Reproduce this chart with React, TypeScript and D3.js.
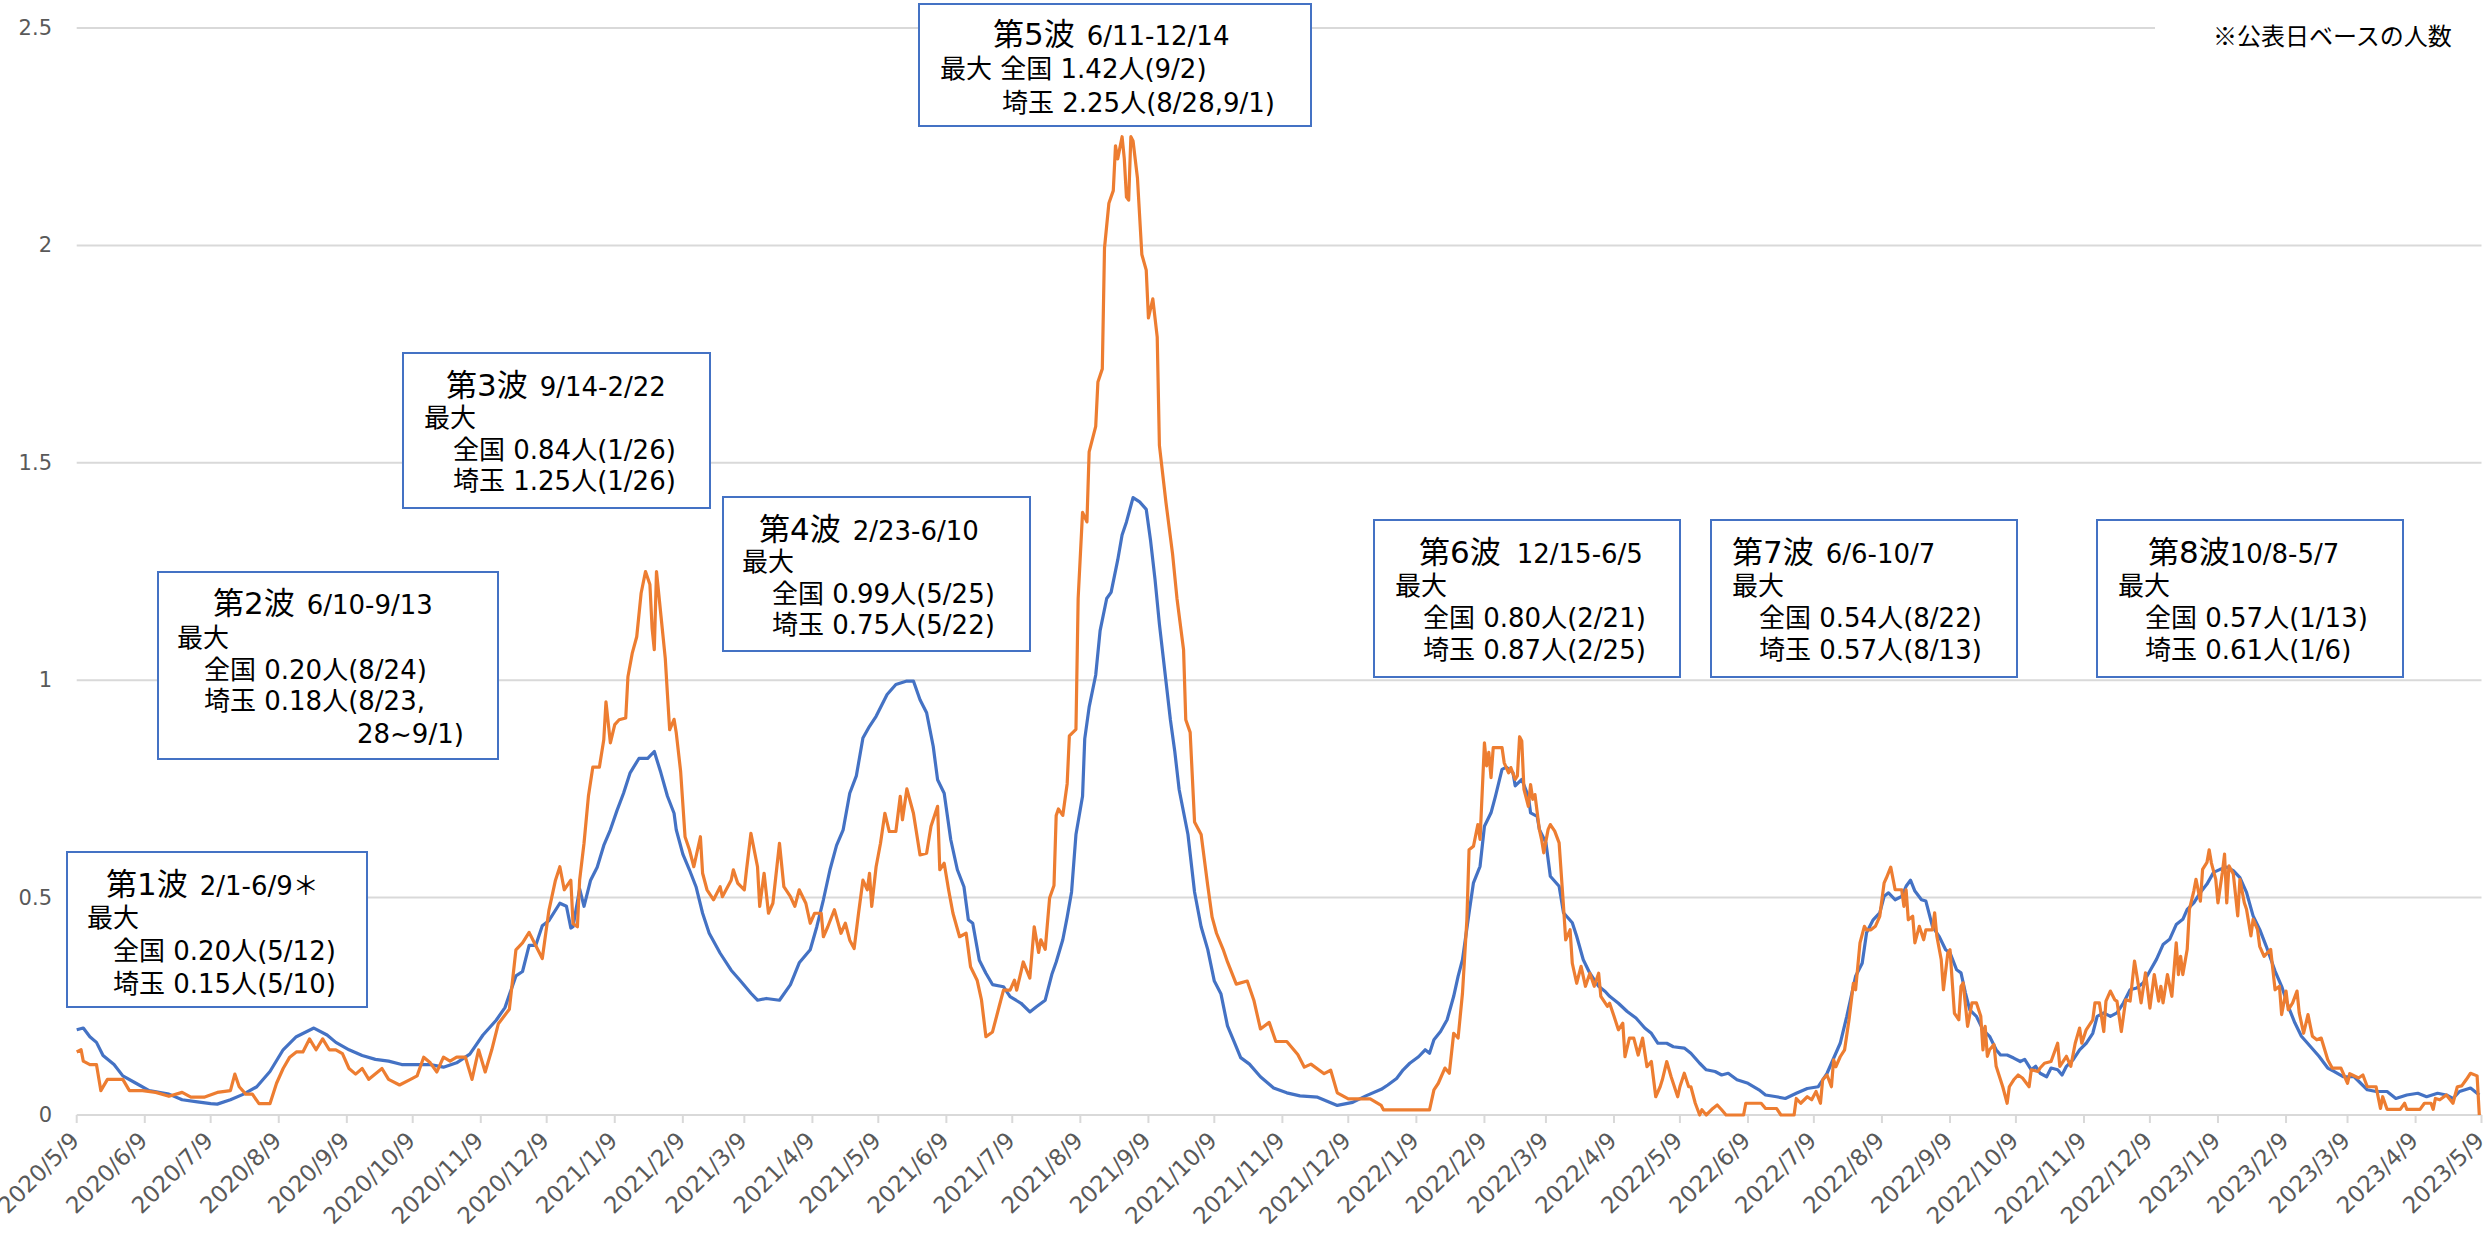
import React from "react";
import * as d3 from "d3";

const START_DATE = "2020-05-09";
const END_DATE = "2023-05-09";

// day offsets from START_DATE and values (人/10万人, 7日平均)
const nationalDays = [0,3,6,9,12,17,21,27,33,42,48,55,61,64,70,76,82,88,94,100,108,114,118,124,130,136,142,148,155,161,167,173,179,185,191,195,200,203,206,209,212,215,220,223,225,226,229,231,234,237,240,243,246,249,252,256,260,263,266,269,272,273,276,279,282,285,288,293,298,302,307,310,314,320,325,329,334,337,340,343,346,349,352,355,358,361,364,369,373,378,381,384,387,390,392,395,398,401,404,406,408,411,414,417,422,425,430,434,437,441,444,446,449,451,453,455,458,459,461,464,466,469,471,474,476,478,481,484,487,489,491,493,496,498,500,502,506,509,512,515,518,521,524,527,530,534,539,545,551,557,565,574,581,587,594,597,601,604,607,611,614,616,618,621,624,627,629,631,634,636,639,641,644,646,649,651,654,655,658,661,662,665,666,669,671,675,677,681,683,686,689,693,696,698,702,706,710,714,717,720,724,727,732,735,739,742,746,749,752,756,761,766,769,774,778,783,788,793,797,799,803,806,810,813,815,818,821,823,825,828,831,833,835,837,840,842,845,848,851,853,856,858,860,862,865,868,871,874,876,879,882,885,887,890,892,894,897,899,902,904,906,909,912,915,918,920,923,926,929,932,935,938,941,944,947,950,953,956,959,961,964,967,970,973,976,979,982,985,988,991,994,997,1001,1004,1007,1010,1013,1017,1021,1025,1028,1032,1037,1040,1043,1047,1052,1056,1061,1066,1070,1075,1079,1082,1085,1090,1094];
const nationalValues = [0.196,0.2,0.18,0.167,0.137,0.116,0.09,0.073,0.056,0.048,0.035,0.03,0.026,0.025,0.035,0.048,0.065,0.1,0.15,0.18,0.2,0.184,0.167,0.15,0.137,0.128,0.124,0.116,0.116,0.116,0.11,0.12,0.14,0.184,0.218,0.247,0.32,0.33,0.39,0.39,0.435,0.447,0.487,0.48,0.43,0.433,0.52,0.48,0.54,0.57,0.62,0.656,0.7,0.74,0.787,0.82,0.82,0.836,0.787,0.733,0.694,0.656,0.6,0.564,0.525,0.464,0.418,0.372,0.333,0.31,0.28,0.264,0.268,0.264,0.3,0.35,0.38,0.433,0.495,0.564,0.62,0.656,0.74,0.78,0.867,0.894,0.917,0.967,0.99,0.998,0.998,0.955,0.925,0.848,0.771,0.74,0.633,0.564,0.525,0.449,0.441,0.356,0.326,0.3,0.295,0.272,0.257,0.237,0.249,0.264,0.323,0.352,0.403,0.455,0.513,0.645,0.733,0.865,0.938,1.012,1.114,1.188,1.202,1.276,1.334,1.364,1.42,1.41,1.393,1.32,1.232,1.129,0.997,0.909,0.836,0.748,0.645,0.513,0.433,0.381,0.308,0.279,0.205,0.169,0.132,0.117,0.088,0.062,0.051,0.044,0.041,0.022,0.029,0.044,0.059,0.069,0.084,0.104,0.119,0.134,0.15,0.142,0.173,0.192,0.219,0.273,0.319,0.357,0.465,0.534,0.572,0.664,0.695,0.733,0.795,0.8,0.787,0.757,0.772,0.733,0.695,0.687,0.657,0.626,0.549,0.526,0.465,0.442,0.411,0.357,0.326,0.296,0.284,0.273,0.257,0.238,0.223,0.2,0.188,0.165,0.165,0.157,0.154,0.142,0.119,0.104,0.1,0.092,0.096,0.081,0.073,0.058,0.046,0.042,0.038,0.05,0.061,0.065,0.096,0.119,0.165,0.227,0.319,0.349,0.419,0.449,0.465,0.503,0.511,0.495,0.503,0.526,0.54,0.515,0.495,0.492,0.434,0.411,0.38,0.373,0.334,0.327,0.281,0.242,0.227,0.196,0.181,0.15,0.138,0.138,0.131,0.123,0.128,0.104,0.112,0.096,0.088,0.108,0.104,0.092,0.112,0.127,0.15,0.165,0.188,0.227,0.235,0.227,0.235,0.258,0.288,0.292,0.304,0.331,0.358,0.392,0.404,0.438,0.45,0.473,0.488,0.512,0.531,0.558,0.565,0.57,0.562,0.546,0.512,0.458,0.427,0.388,0.331,0.296,0.25,0.212,0.181,0.158,0.135,0.108,0.1,0.088,0.088,0.073,0.058,0.054,0.054,0.038,0.046,0.05,0.042,0.05,0.046,0.038,0.054,0.062,0.046];

const saitamaDays = [0,2,3,6,9,11,14,17,21,24,30,36,42,48,52,58,64,70,72,74,77,80,83,88,91,94,97,100,103,106,109,112,115,118,121,124,127,130,133,139,142,147,152,155,158,161,164,167,170,173,177,180,183,186,189,192,197,200,203,206,209,212,215,218,220,222,225,226,228,229,231,233,235,238,240,241,243,245,247,250,251,253,255,257,259,261,262,263,264,266,268,269,270,272,273,275,277,279,281,284,285,287,290,293,294,298,299,301,304,305,307,310,311,313,315,317,320,322,325,327,329,332,334,336,339,340,342,345,348,350,352,354,356,358,360,361,362,364,366,368,370,373,375,376,378,381,384,387,389,392,393,395,397,399,402,405,407,410,412,414,417,420,422,425,427,428,430,431,434,436,438,439,441,443,445,446,447,449,451,452,455,456,458,460,461,464,465,467,468,470,472,473,474,476,477,478,479,480,481,483,485,487,488,490,492,493,496,499,501,504,505,507,509,512,515,517,519,522,524,528,533,536,539,543,546,551,556,559,562,568,571,574,579,589,594,595,616,618,620,623,625,627,629,631,633,634,636,638,639,641,642,643,644,645,649,650,652,653,655,656,657,658,659,661,662,663,664,666,667,668,670,671,673,675,677,678,680,681,683,685,687,689,691,693,694,697,698,700,702,704,705,707,709,711,713,715,717,719,721,722,724,726,729,730,732,734,735,737,739,740,742,745,747,749,751,759,760,767,769,774,776,782,783,785,788,790,792,794,795,797,799,800,801,803,805,807,809,810,812,814,815,817,819,821,823,824,826,828,831,832,833,834,836,837,839,841,842,845,846,847,849,850,852,853,855,857,858,859,861,863,865,867,868,869,870,871,873,874,877,879,880,882,884,886,889,890,893,894,896,899,902,903,906,908,910,912,913,915,918,919,921,923,924,926,928,929,931,933,935,937,938,940,942,943,944,946,948,949,950,952,954,956,957,958,959,961,962,964,965,967,968,970,971,972,974,975,977,978,979,980,982,984,985,987,988,990,991,993,994,996,999,1001,1003,1004,1006,1007,1009,1011,1012,1014,1016,1018,1020,1022,1025,1027,1031,1034,1035,1039,1041,1043,1047,1049,1050,1052,1058,1060,1061,1067,1069,1072,1073,1074,1076,1079,1082,1084,1086,1088,1090,1093,1094];
const saitamaValues = [0.145,0.15,0.124,0.116,0.116,0.056,0.082,0.082,0.082,0.056,0.056,0.052,0.043,0.052,0.041,0.041,0.052,0.056,0.094,0.065,0.048,0.048,0.026,0.026,0.073,0.107,0.133,0.145,0.145,0.175,0.15,0.175,0.15,0.15,0.141,0.107,0.094,0.107,0.082,0.107,0.082,0.069,0.082,0.09,0.133,0.12,0.099,0.133,0.124,0.133,0.133,0.082,0.15,0.099,0.15,0.21,0.243,0.38,0.396,0.42,0.39,0.36,0.47,0.54,0.571,0.518,0.54,0.44,0.433,0.54,0.625,0.733,0.8,0.8,0.863,0.95,0.856,0.898,0.909,0.913,1.008,1.063,1.1,1.2,1.25,1.22,1.12,1.07,1.25,1.15,1.05,0.967,0.886,0.91,0.879,0.79,0.64,0.61,0.571,0.64,0.556,0.518,0.495,0.525,0.502,0.54,0.564,0.533,0.518,0.564,0.648,0.571,0.48,0.556,0.464,0.487,0.625,0.525,0.502,0.48,0.518,0.487,0.441,0.464,0.464,0.41,0.433,0.472,0.418,0.441,0.402,0.383,0.464,0.54,0.518,0.556,0.48,0.571,0.625,0.694,0.652,0.652,0.733,0.679,0.75,0.694,0.598,0.602,0.664,0.71,0.564,0.579,0.518,0.464,0.41,0.418,0.341,0.31,0.264,0.18,0.191,0.249,0.287,0.287,0.31,0.287,0.33,0.352,0.315,0.433,0.374,0.403,0.381,0.499,0.528,0.689,0.704,0.689,0.762,0.872,0.887,1.188,1.386,1.364,1.525,1.584,1.686,1.716,1.994,2.097,2.126,2.229,2.199,2.25,2.2,2.111,2.104,2.25,2.24,2.155,1.979,1.943,1.833,1.877,1.789,1.54,1.408,1.29,1.188,1.07,0.909,0.88,0.674,0.645,0.528,0.455,0.418,0.381,0.352,0.301,0.308,0.264,0.198,0.213,0.169,0.169,0.139,0.11,0.117,0.095,0.103,0.051,0.037,0.037,0.022,0.012,0.012,0.058,0.073,0.108,0.096,0.188,0.177,0.28,0.449,0.61,0.618,0.668,0.634,0.856,0.803,0.834,0.776,0.845,0.845,0.81,0.787,0.799,0.772,0.78,0.87,0.86,0.749,0.71,0.76,0.726,0.737,0.657,0.634,0.603,0.657,0.668,0.653,0.626,0.48,0.403,0.426,0.349,0.303,0.342,0.296,0.326,0.296,0.326,0.273,0.25,0.257,0.227,0.196,0.211,0.134,0.177,0.177,0.138,0.177,0.111,0.123,0.042,0.065,0.081,0.123,0.088,0.042,0.065,0.096,0.065,0.065,0.027,0,0.012,0,0.015,0.023,0.012,0,0,0.027,0.027,0.015,0.015,0,0,0.038,0.027,0.042,0.035,0.054,0.027,0.081,0.092,0.065,0.127,0.111,0.134,0.15,0.219,0.303,0.288,0.396,0.434,0.426,0.426,0.434,0.457,0.534,0.545,0.57,0.518,0.518,0.48,0.518,0.449,0.457,0.396,0.434,0.403,0.426,0.426,0.465,0.411,0.357,0.288,0.373,0.38,0.234,0.219,0.296,0.304,0.204,0.258,0.258,0.227,0.15,0.204,0.135,0.15,0.162,0.112,0.065,0.027,0.065,0.081,0.092,0.085,0.065,0.104,0.1,0.108,0.119,0.123,0.165,0.112,0.135,0.112,0.165,0.2,0.165,0.196,0.219,0.258,0.258,0.192,0.262,0.285,0.265,0.262,0.192,0.265,0.262,0.354,0.323,0.258,0.327,0.288,0.246,0.323,0.262,0.296,0.258,0.323,0.273,0.396,0.323,0.365,0.323,0.381,0.473,0.515,0.542,0.492,0.565,0.581,0.61,0.58,0.542,0.488,0.558,0.6,0.488,0.573,0.554,0.458,0.542,0.488,0.473,0.412,0.45,0.427,0.388,0.365,0.381,0.288,0.296,0.231,0.285,0.242,0.258,0.285,0.235,0.188,0.231,0.181,0.173,0.177,0.127,0.108,0.108,0.073,0.095,0.085,0.092,0.065,0.065,0.015,0.042,0.013,0.013,0.027,0.013,0.013,0.027,0.027,0.013,0.038,0.035,0.046,0.027,0.065,0.067,0.081,0.096,0.09,0];

const yTicks = [0, 0.5, 1, 1.5, 2, 2.5];
const yTickLabels = ["0", "0.5", "1", "1.5", "2", "2.5"];

const waveTitles = ["第1波", "第2波", "第3波", "第4波", "第5波", "第6波", "第7波", "第8波"];
const wavePeriods = ["2/1-6/9＊", "6/10-9/13", "9/14-2/22", "2/23-6/10", "6/11-12/14", "12/15-6/5", "6/6-10/7", "10/8-5/7"];
const waveLines = [
  ["最大", "全国 0.20人(5/12)", "埼玉 0.15人(5/10)"],
  ["最大", "全国 0.20人(8/24)", "埼玉 0.18人(8/23,", "28~9/1)"],
  ["最大", "全国 0.84人(1/26)", "埼玉 1.25人(1/26)"],
  ["最大", "全国 0.99人(5/25)", "埼玉 0.75人(5/22)"],
  ["最大 全国 1.42人(9/2)", "埼玉 2.25人(8/28,9/1)"],
  ["最大", "全国 0.80人(2/21)", "埼玉 0.87人(2/25)"],
  ["最大", "全国 0.54人(8/22)", "埼玉 0.57人(8/13)"],
  ["最大", "全国 0.57人(1/13)", "埼玉 0.61人(1/6)"],
];
const noteText = "※公表日ベースの人数";

// layout of annotation boxes (pixels)
const boxLayout = [
  { x: 67, y: 852, w: 300, h: 155, tx: 106, gap: 12, ty: 43, lx: [87, 113, 113], ly: [75, 108, 141] },
  { x: 158, y: 572, w: 340, h: 187, tx: 213, gap: 12, ty: 42, lx: [177, 204, 204, 357], ly: [75, 107, 138, 171] },
  { x: 403, y: 353, w: 307, h: 155, tx: 446, gap: 12, ty: 43, lx: [424, 453, 453], ly: [74, 106, 137] },
  { x: 723, y: 497, w: 307, h: 154, tx: 759, gap: 12, ty: 43, lx: [742, 772, 772], ly: [74, 106, 137] },
  { x: 919, y: 4, w: 392, h: 122, tx: 993, gap: 12, ty: 41, lx: [940, 1002], ly: [74, 108] },
  { x: 1374, y: 520, w: 306, h: 157, tx: 1419, gap: 16, ty: 43, lx: [1395, 1423, 1423], ly: [75, 107, 139] },
  { x: 1711, y: 520, w: 306, h: 157, tx: 1732, gap: 12, ty: 43, lx: [1732, 1759, 1759], ly: [75, 107, 139] },
  { x: 2097, y: 520, w: 306, h: 157, tx: 2148, gap: 0, ty: 43, lx: [2118, 2145, 2145], ly: [75, 107, 139] },
];

const W = 2491;
const H = 1233;
const X0 = 76.7;
const X1 = 2481.5;
const Y0 = 1115;
const Y1 = 28;
const BLUE = "#4472C4";
const ORANGE = "#ED7D31";
const GRID = "#d9d9d9";
const LABEL = "#595959";
const FONT = "'DejaVu Sans', 'Noto Sans CJK JP', sans-serif";
const JFONT = "'Noto Sans CJK JP', sans-serif";

export default function App() {
  const parse = d3.timeParse("%Y-%m-%d");
  const start = parse(START_DATE) as Date;
  const end = parse(END_DATE) as Date;
  const x = d3.scaleTime().domain([start, end]).range([X0, X1]);
  const y = d3.scaleLinear().domain([0, 2.5]).range([Y0, Y1]);

  const mk = (days: number[], vals: number[]) =>
    days.map((d, i) => ({ date: d3.timeDay.offset(start, d), v: vals[i] }));
  const national = mk(nationalDays, nationalValues);
  const saitama = mk(saitamaDays, saitamaValues);

  const line = d3
    .line<{ date: Date; v: number }>()
    .x((d) => x(d.date))
    .y((d) => y(d.v));

  const months = d3.timeMonth.every(1)!.range(d3.timeMonth.floor(start), d3.timeDay.offset(end, 1))
    .map((m) => new Date(m.getFullYear(), m.getMonth(), 9))
    .filter((d) => d >= start && d <= end);
  const fmt = (d: Date) => `${d.getFullYear()}/${d.getMonth() + 1}/${d.getDate()}`;

  return (
    <>
      <style>{`body{margin:0;background:#fff}`}</style>
      <svg width={W} height={H} style={{ display: "block", background: "#fff" }}>
        {/* grid */}
        {yTicks.filter((t) => t > 0).map((t) => (
          <line key={t} x1={X0} x2={X1} y1={y(t)} y2={y(t)} stroke={GRID} strokeWidth={2} />
        ))}
        {/* x axis */}
        <line x1={X0} x2={X1} y1={Y0} y2={Y0} stroke={GRID} strokeWidth={2} />
        {months.map((m) => (
          <line key={+m} x1={x(m)} x2={x(m)} y1={Y0} y2={Y0 + 8} stroke={GRID} strokeWidth={2} />
        ))}
        {months.map((m) => (
          <text
            key={"l" + +m}
            transform={`translate(${x(m) + 4},${Y0 + 27}) rotate(-45)`}
            textAnchor="end"
            fontFamily={FONT}
            fontSize={23}
            fill={LABEL}
          >
            {fmt(m)}
          </text>
        ))}
        {/* y labels */}
        {yTicks.map((t, i) => (
          <text key={"y" + t} x={52} y={y(t) + 7} textAnchor="end" fontFamily={FONT} fontSize={21} fill={LABEL}>
            {yTickLabels[i]}
          </text>
        ))}
        {/* series */}
        <path d={line(national) || ""} fill="none" stroke={BLUE} strokeWidth={3.2} strokeLinejoin="round" />
        <path d={line(saitama) || ""} fill="none" stroke={ORANGE} strokeWidth={3.2} strokeLinejoin="round" />
        {/* note */}
        <rect x={2155} y={8} width={W - 2155} height={50} fill="#fff" />
        <text x={2213} y={45} fontFamily={JFONT} fontSize={24} fill="#000">
          {noteText}
        </text>
        {/* annotation boxes */}
        {boxLayout.map((b, i) => (
          <g key={"b" + i}>
            <rect x={b.x} y={b.y} width={b.w} height={b.h} fill="#fff" stroke={BLUE} strokeWidth={2} />
            <text x={b.tx} y={b.y + b.ty} fontFamily={FONT} fill="#000" xmlSpace="preserve">
              <tspan fontSize={31}>{waveTitles[i]}</tspan>
              <tspan fontSize={26} dx={b.gap}>{wavePeriods[i]}</tspan>
            </text>
            {waveLines[i].map((ln, j) => (
              <text key={j} x={b.lx[j]} y={b.y + b.ly[j]} fontFamily={FONT} fontSize={26} fill="#000" xmlSpace="preserve">
                {ln}
              </text>
            ))}
          </g>
        ))}
      </svg>
    </>
  );
}
